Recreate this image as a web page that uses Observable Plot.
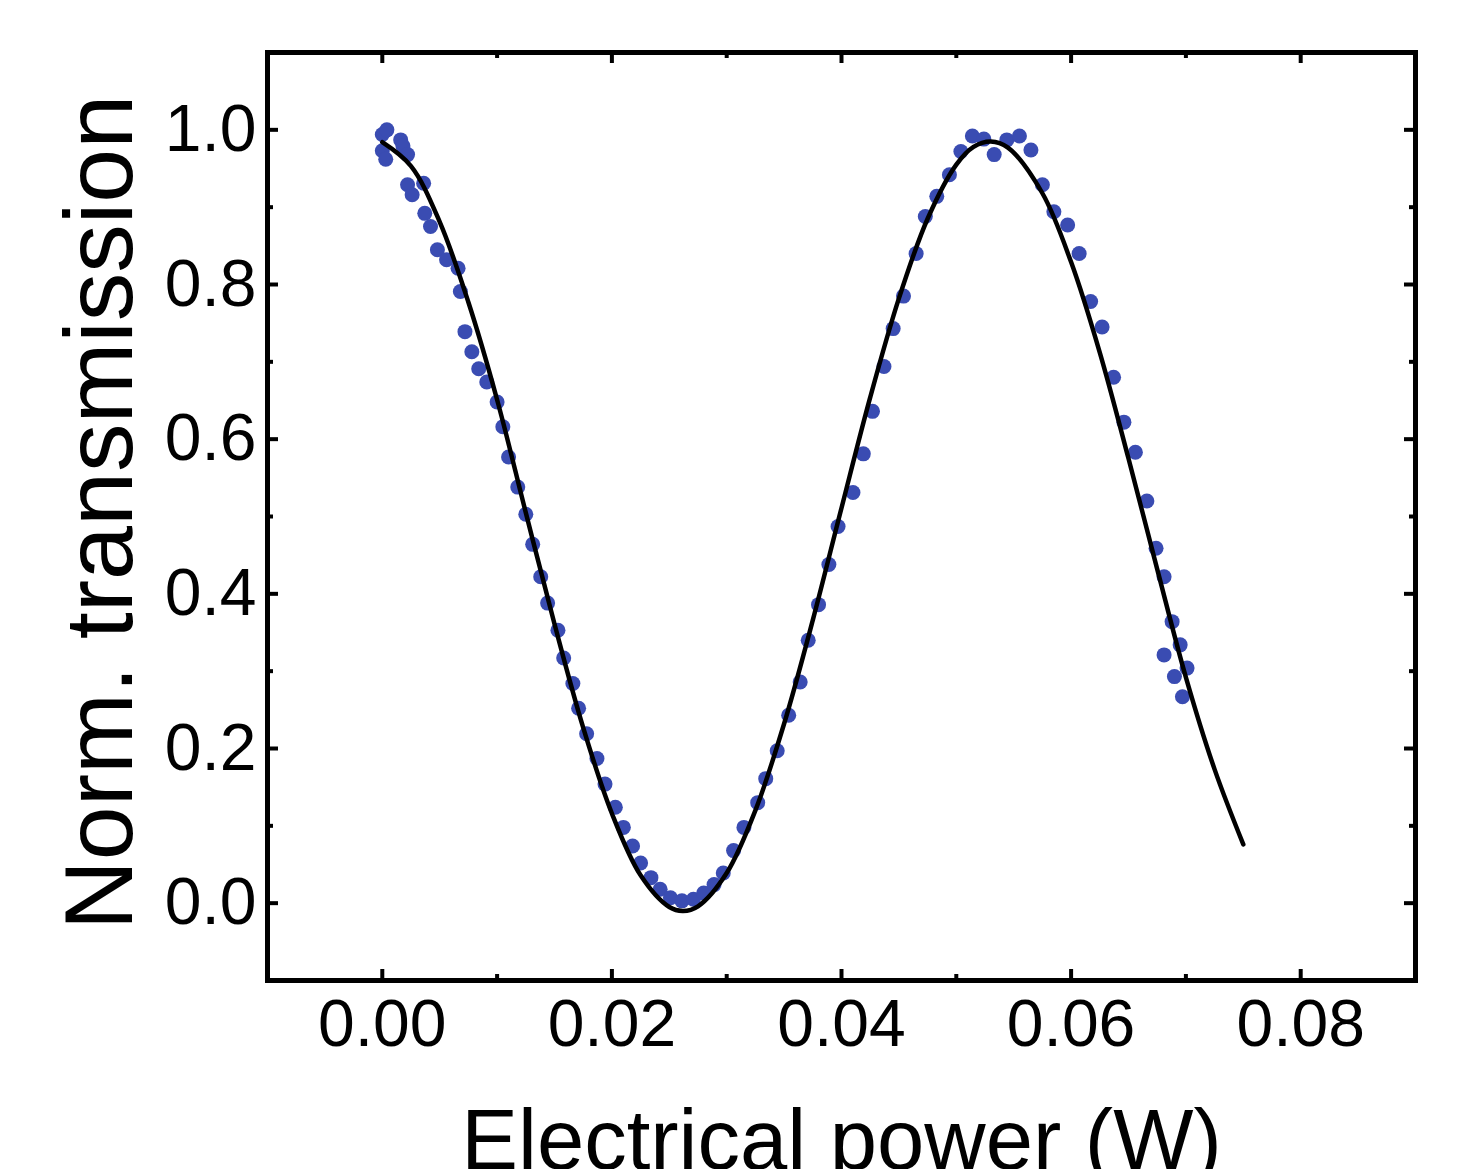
<!DOCTYPE html>
<html>
<head>
<meta charset="utf-8">
<script src="https://cdn.jsdelivr.net/npm/d3@7"></script>
<script src="https://cdn.jsdelivr.net/npm/@observablehq/plot@0.6"></script>
<style>
  html, body { margin: 0; padding: 0; background: #fff; overflow: hidden; }
  #chart svg { display: block; }
</style>
</head>
<body>
<div id="chart"></div>
<script>
// Measured data (blue points)
const powerW = [
  0.0000, 0.0004, 0.0000, 0.0003, 0.0016, 0.0018, 0.0022, 0.0022, 0.0026, 0.0036,
  0.0037, 0.0042, 0.0048, 0.0056, 0.0066, 0.0068, 0.0072, 0.0078, 0.0084, 0.0091,
  0.0100, 0.0105, 0.0110, 0.0118, 0.0125, 0.0131, 0.0138, 0.0144, 0.0153, 0.0158,
  0.0166, 0.0171, 0.0178, 0.0187, 0.0194, 0.0203, 0.0210, 0.0218, 0.0225, 0.0234,
  0.0242, 0.0251, 0.0261, 0.0271, 0.0280, 0.0289, 0.0297, 0.0306, 0.0315, 0.0327,
  0.0334, 0.0344, 0.0354, 0.0364, 0.0371, 0.0380, 0.0389, 0.0397, 0.0410, 0.0419,
  0.0427, 0.0437, 0.0445, 0.0454, 0.0465, 0.0473, 0.0483, 0.0494, 0.0504, 0.0514,
  0.0524, 0.0533, 0.0544, 0.0555, 0.0565, 0.0575, 0.0585, 0.0597, 0.0607, 0.0617,
  0.0627, 0.0637, 0.0646, 0.0656, 0.0666, 0.0674, 0.0681, 0.0688, 0.0695, 0.0681,
  0.0701, 0.0690, 0.0697
];
const transmission = [
  0.994, 1.000, 0.973, 0.962, 0.987, 0.979, 0.968, 0.929, 0.916, 0.931,
  0.892, 0.875, 0.845, 0.832, 0.821, 0.791, 0.739, 0.713, 0.691, 0.674,
  0.648, 0.616, 0.577, 0.538, 0.503, 0.464, 0.422, 0.388, 0.353, 0.317,
  0.284, 0.252, 0.219, 0.187, 0.154, 0.124, 0.098, 0.074, 0.052, 0.033,
  0.018, 0.007, 0.003, 0.005, 0.013, 0.024, 0.039, 0.068, 0.098, 0.130,
  0.161, 0.197, 0.243, 0.286, 0.340, 0.386, 0.438, 0.487, 0.531, 0.581,
  0.636, 0.694, 0.743, 0.785, 0.840, 0.888, 0.914, 0.942, 0.972, 0.992,
  0.988, 0.968, 0.987, 0.992, 0.974, 0.929, 0.894, 0.877, 0.840, 0.778,
  0.745, 0.680, 0.622, 0.583, 0.520, 0.459, 0.422, 0.364, 0.334, 0.321,
  0.304, 0.293, 0.267
];

// Fit curve (black line)
const fitPowerW = [
  0.0000, 0.0025, 0.0050, 0.0075, 0.0100, 0.0125, 0.0150, 0.0175, 0.0200, 0.0225,
  0.0250, 0.0262, 0.0275, 0.0300, 0.0325, 0.0350, 0.0375, 0.0400, 0.0425, 0.0450,
  0.0475, 0.0500, 0.0515, 0.0530, 0.0545, 0.0575, 0.0600, 0.0625, 0.0650, 0.0675,
  0.0700, 0.0725, 0.0750
];
const fitTransmission = [
  0.984, 0.953, 0.881, 0.777, 0.651, 0.505, 0.361, 0.227, 0.116, 0.036,
  -0.005, -0.010, -0.004, 0.039, 0.120, 0.232, 0.366, 0.511, 0.654, 0.782,
  0.885, 0.955, 0.978, 0.985, 0.977, 0.918, 0.829, 0.712, 0.575, 0.432,
  0.292, 0.173, 0.076
];

const xTicks = [0.00, 0.02, 0.04, 0.06, 0.08];
const xMinorTicks = [0.01, 0.03, 0.05, 0.07];
const yTicks = [0.0, 0.2, 0.4, 0.6, 0.8, 1.0];
const yMinorTicks = [0.1, 0.3, 0.5, 0.7, 0.9];
const xLabel = "Electrical power (W)";
const yLabel = "Norm. transmission";

const W = 1463, H = 1169;
const mL = 267, mR = 48, mT = 52, mB = 189;
const frameW = W - mL - mR, frameH = H - mT - mB;
const majorLen = 11, minorLen = 6, tickW = 4;

const points = powerW.map((x, i) => ({x, y: transmission[i]}));
const fit = fitPowerW.map((x, i) => ({x, y: fitTransmission[i]}));

const chart = Plot.plot({
  width: W,
  height: H,
  marginLeft: mL,
  marginRight: mR,
  marginTop: mT,
  marginBottom: mB,
  style: {fontFamily: "'Liberation Sans', Arial, Helvetica, sans-serif", background: "white", color: "black"},
  x: {domain: [-0.01, 0.09]},
  y: {domain: [-0.1, 1.1]},
  marks: [
    Plot.dot(points, {x: "x", y: "y", r: 7.5, fill: "#3a4cb2", stroke: "none"}),
    Plot.line(fit, {x: "x", y: "y", curve: "catmull-rom", stroke: "black", strokeWidth: 4.5}),
    // inward ticks: bottom & top
    Plot.tickX(xTicks, {x: d => d, insetTop: frameH - majorLen, stroke: "black", strokeWidth: tickW}),
    Plot.tickX(xMinorTicks, {x: d => d, insetTop: frameH - minorLen, stroke: "black", strokeWidth: tickW}),
    Plot.tickX(xTicks, {x: d => d, insetBottom: frameH - majorLen, stroke: "black", strokeWidth: tickW}),
    Plot.tickX(xMinorTicks, {x: d => d, insetBottom: frameH - minorLen, stroke: "black", strokeWidth: tickW}),
    // inward ticks: left & right
    Plot.tickY(yTicks, {y: d => d, insetRight: frameW - majorLen, stroke: "black", strokeWidth: tickW}),
    Plot.tickY(yMinorTicks, {y: d => d, insetRight: frameW - minorLen, stroke: "black", strokeWidth: tickW}),
    Plot.tickY(yTicks, {y: d => d, insetLeft: frameW - majorLen, stroke: "black", strokeWidth: tickW}),
    Plot.tickY(yMinorTicks, {y: d => d, insetLeft: frameW - minorLen, stroke: "black", strokeWidth: tickW}),
    Plot.frame({stroke: "black", strokeWidth: 5}),
    Plot.axisX(xTicks, {tickSize: 0, tickPadding: 19, tickFormat: d3.format(".2f"), fontSize: 66, label: null}),
    Plot.axisY(yTicks, {tickSize: 0, tickPadding: 11, tickFormat: d3.format(".1f"), fontSize: 66, label: null}),
    Plot.text([xLabel], {text: d => d, frameAnchor: "bottom", lineAnchor: "bottom", dy: 188, fontSize: 85, fill: "black"}),
    Plot.text([yLabel], {text: d => d, frameAnchor: "left", rotate: -90, lineAnchor: "top", textAnchor: "middle", dx: -204, dy: -4, fontSize: 97, fill: "black"})
  ]
});
document.getElementById("chart").appendChild(chart);
</script>
</body>
</html>
